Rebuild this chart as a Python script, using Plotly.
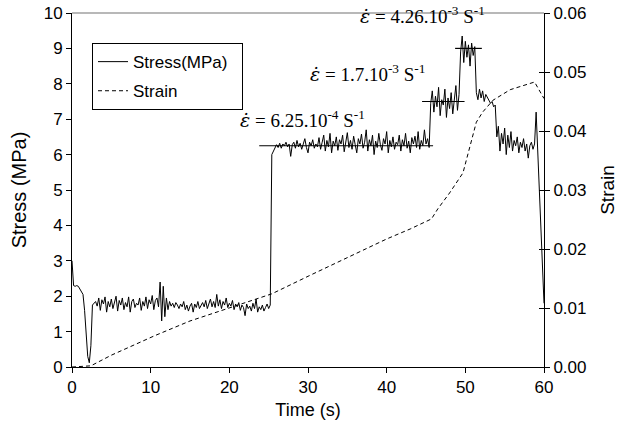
import numpy as np
import plotly.graph_objects as go

# ---- Stress (MPa), sampled every 0.2 s from 0 to 60 s ----
TIME_STEP = 0.2
STRESS_START = [3.00, 2.30, 2.28, 2.30, 2.28, 2.20, 2.12, 2.05, 1.60, 0.90, 0.30, 0.12, 0.60, 1.75, 1.80]
STRESS_LOW = [
    1.85, 1.72, 1.95, 1.60, 1.90, 1.78, 1.98, 1.55, 1.85, 1.70,
    1.92, 1.65, 1.80, 2.00, 1.58, 1.88, 1.75, 1.95, 1.62, 1.82,
    1.70, 1.98, 1.55, 1.85, 1.92, 1.68, 1.80, 1.75, 1.95, 1.60,
    1.85, 1.72, 1.98, 1.65, 1.90, 1.78, 2.02, 1.62, 1.88, 1.95,
    1.70, 2.40, 1.30, 2.28, 1.42, 1.95, 1.62, 1.85, 1.72, 1.80,
    1.68, 1.82, 1.75, 1.65, 1.78, 1.70, 1.85, 1.62, 1.75, 1.58,
    1.72, 1.80, 1.55, 1.78, 1.68, 1.85, 1.65, 1.75, 1.82, 1.70,
    1.88, 1.65, 1.78, 1.92, 1.70, 1.85, 1.68, 2.05, 1.72, 1.90,
    1.65, 1.85, 1.75, 1.95, 1.68, 1.80, 1.72, 1.88, 1.62, 1.78,
    1.70, 1.82, 1.60, 1.75, 1.68, 1.45, 1.78, 1.65, 1.72, 1.58,
    1.80, 1.65, 1.92, 1.55, 1.70, 1.62, 1.75, 1.58, 1.68, 1.78,
    1.65, 1.75,
]
STRESS_RATE1 = [
    6.00, 6.10, 6.22, 6.28, 6.20, 6.32, 6.18, 6.30, 6.25, 6.35,
    6.22, 6.30, 5.95, 6.28, 6.35, 6.18, 6.40, 6.22, 6.32, 6.15,
    6.30, 6.45, 6.20, 6.05, 6.35, 6.25, 6.42, 6.18, 6.30, 6.22,
    6.48, 6.15, 6.35, 6.55, 6.10, 6.40, 6.22, 6.60, 6.05, 6.38,
    6.25, 6.50, 6.12, 6.42, 6.30, 6.55, 6.08, 6.35, 6.62, 6.20,
    6.40, 6.15, 6.52, 6.28, 6.05, 6.45, 6.30, 6.58, 6.18, 6.35,
    6.70, 6.10, 6.42, 6.25, 6.55, 6.00, 6.38, 6.20, 6.60, 6.28,
    6.12, 6.45, 6.30, 6.65, 6.05, 6.40, 6.22, 6.50, 6.15, 6.35,
    6.28, 6.55, 6.10, 6.42, 6.25, 6.60, 6.18, 6.38, 6.05, 6.48,
    6.30, 6.52, 6.20, 6.65, 6.15, 6.40, 6.25, 6.70, 6.30, 6.45,
    6.20,
]
STRESS_RATE2 = [7.45, 7.80, 7.20, 7.65, 7.35, 7.90, 7.10, 7.55, 7.40, 7.85,
                7.05, 7.60, 7.30, 7.75, 7.15, 7.50, 7.95, 7.25, 7.70]
STRESS_RATE3 = [8.90, 9.35, 8.60, 9.20, 8.75, 9.10, 8.50, 9.15, 8.80, 9.05]
STRESS_BACK2 = [7.75, 7.55, 7.85, 7.60, 7.80, 7.50, 7.70, 7.62, 7.55, 7.45, 7.50, 7.35, 7.40]
STRESS_BACK1 = [6.50, 6.80, 6.10, 6.60, 6.30, 6.75, 6.00, 6.55, 6.20, 6.65,
                6.10, 6.40, 6.25, 6.50, 6.05, 6.35, 6.20, 6.45, 6.10, 6.30,
                5.90, 6.25, 6.35, 6.15]
STRESS_END = [6.30, 7.20, 6.10, 4.80, 3.60, 2.60, 1.80]

stress = (STRESS_START + STRESS_LOW + STRESS_RATE1 + STRESS_RATE2 +
          STRESS_RATE3 + STRESS_BACK2 + STRESS_BACK1 + STRESS_END)
stress_time = np.round(np.arange(len(stress)) * TIME_STEP, 1)

# ---- Strain ----
STRAIN_TIME = [0, 2.4, 5, 10.5, 15, 20.1, 25.4, 30.2, 35, 40, 43, 45.7, 46.5, 48,
               49.7, 50.5, 51.4, 52.2, 53.5, 55.7, 58.8, 60]
STRAIN = [0.0, 0.0002, 0.0020, 0.0053, 0.0078, 0.0100, 0.0124, 0.0155, 0.0185, 0.0217,
          0.0234, 0.0251, 0.0268, 0.0295, 0.0329, 0.0370, 0.0415, 0.0432, 0.0452,
          0.0470, 0.0483, 0.0455]

# ---- Strain-rate reference levels ----
LEVEL_STRESS = [6.25, 7.5, 9.0]
LEVEL_T0 = [23.8, 44.5, 48.7]
LEVEL_T1 = [45.9, 49.9, 52.1]
LEVEL_LABELS = ["6.25.10<sup>-4</sup>", "1.7.10<sup>-3</sup>", "4.26.10<sup>-3</sup>"]
LABEL_X = [21.1, 30.0, 36.35]
LABEL_Y = [7.0, 8.3, 9.94]

SANS = "Liberation Sans, Arial, sans-serif"
SERIF = "Liberation Serif, Times New Roman, serif"
EPS_DOT = "<span style='font-family:DejaVu Serif'><i>\u03b5\u0307</i></span>"
PAD = "\u00a0\u00a0"

fig = go.Figure()
fig.add_trace(go.Scatter(x=stress_time, y=stress, mode="lines", name="Stress(MPa)" + PAD,
                         legendgroup="a", line=dict(color="black", width=1)))
fig.add_trace(go.Scatter(x=STRAIN_TIME, y=STRAIN, mode="lines", name="Strain", yaxis="y2",
                         legendgroup="b", line=dict(color="black", width=1, dash="4px,3px")))
for lv, a, b in zip(LEVEL_STRESS, LEVEL_T0, LEVEL_T1):
    fig.add_trace(go.Scatter(x=[a, b], y=[lv, lv], mode="lines", showlegend=False,
                             line=dict(color="black", width=1.2), hoverinfo="skip"))

for lbl, lx, ly in zip(LEVEL_LABELS, LABEL_X, LABEL_Y):
    fig.add_annotation(x=lx, y=ly, xref="x", yref="y", xanchor="left", yanchor="middle",
                       showarrow=False,
                       text=EPS_DOT + " = " + lbl + " S<sup>-1</sup>",
                       font=dict(family=SERIF, size=19, color="black"))

axis_common = dict(showline=True, linecolor="black", linewidth=1, showgrid=False,
                   zeroline=False, ticks="outside", ticklen=5, tickcolor="black",
                   automargin=False,
                   tickfont=dict(family=SANS, size=17, color="black"))

fig.update_layout(
    width=620, height=428,
    margin=dict(l=72, r=76, t=13, b=61, autoexpand=False),
    paper_bgcolor="white", plot_bgcolor="white",
    font=dict(family=SANS, size=17, color="black"),
    xaxis=dict(range=[0, 60], dtick=10, title=dict(text="Time (s)", standoff=6,
               font=dict(family=SANS, size=18)), **axis_common),
    yaxis=dict(range=[0, 10], dtick=1, title=dict(text="Stress (MPa)", standoff=11,
               font=dict(family=SANS, size=20)), **axis_common),
    yaxis2=dict(range=[0, 0.06], dtick=0.01, tickformat=".2f", overlaying="y", side="right",
                title=dict(text="Strain", standoff=15, font=dict(family=SANS, size=19)),
                **axis_common),
    yaxis3=dict(range=[0, 0.06], dtick=0.01, overlaying="y", side="right", anchor="x",
                showline=False, showgrid=False, zeroline=False, ticks="inside", ticklen=5,
                tickcolor="black", showticklabels=False, automargin=False),
    legend=dict(x=0.0424, y=0.915, xanchor="left", yanchor="top", bordercolor="black",
                borderwidth=1, bgcolor="white", font=dict(family=SANS, size=17),
                tracegroupgap=4),
    showlegend=True,
)
# invisible trace so the inside right-hand ticks are drawn
fig.add_trace(go.Scatter(x=[0], y=[0], yaxis="y3", mode="none", showlegend=False, hoverinfo="skip"))
fig.add_shape(type="line", xref="paper", yref="paper", x0=0, x1=1, y0=1, y1=1,
              line=dict(color="#a0a0a0", width=1.5))

fig.write_html("out.html", config={"displayModeBar": False},
               post_script="document.body.style.margin='0';")
